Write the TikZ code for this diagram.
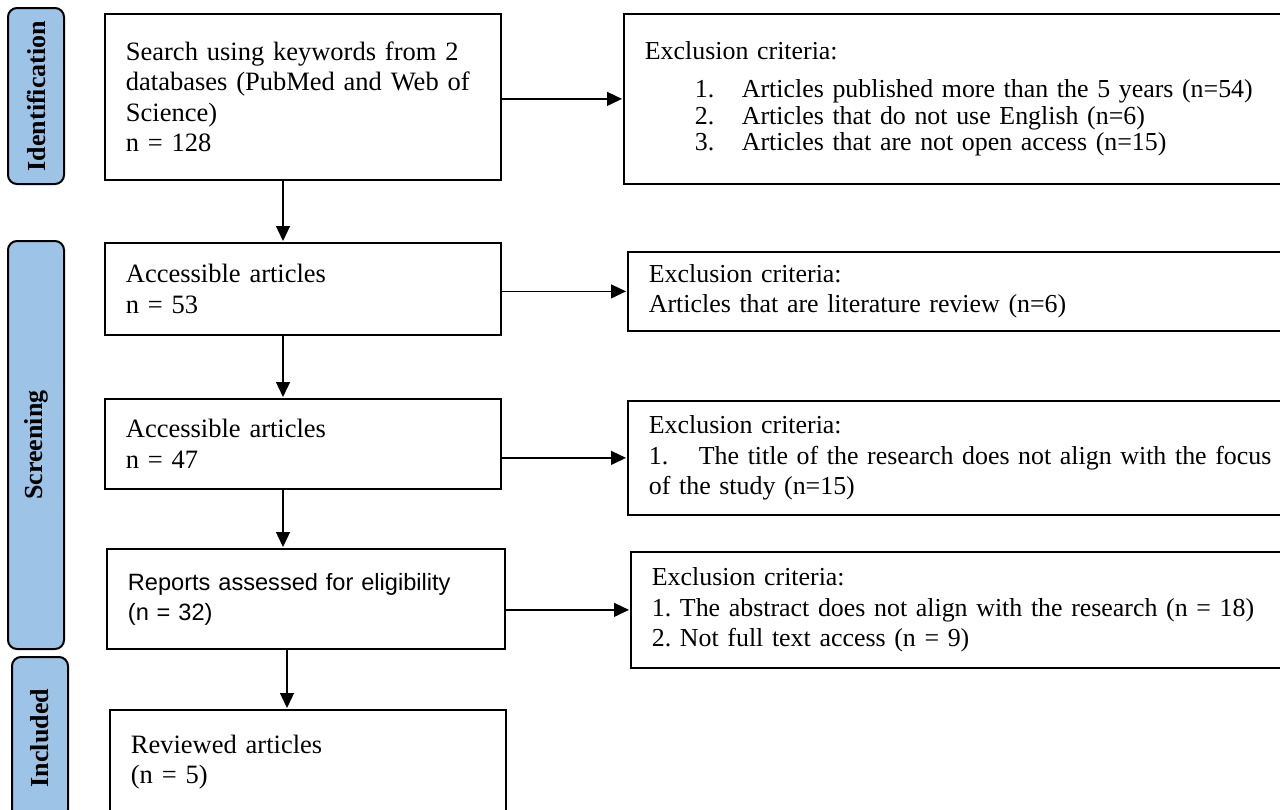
\documentclass[tikz,border=0pt]{standalone}
\usepackage{fontspec}
\setmainfont{Liberation Serif}
\newfontfamily\arialfont{Liberation Sans}
\usetikzlibrary{arrows.meta}
\definecolor{barblue}{HTML}{9DC3E6}
\frenchspacing
\begin{document}
\begin{tikzpicture}[x=1pt,y=-1pt,
  box/.style={draw=black, line width=1.8pt, rectangle, anchor=north west,
    inner xsep=21pt, inner ysep=0pt, align=left,
    font=\frenchspacing\fontsize{26.5}{30.5}\selectfont},
  rbox/.style={box, minimum width=742pt, text width=700pt,
    font=\frenchspacing\fontsize{25.9}{30.5}\selectfont},
  bar/.style={draw=black, line width=2pt, fill=barblue, rounded corners=9pt,
    rectangle, anchor=north west, inner sep=0pt},
  bartext/.style={rotate=90, font=\bfseries\fontsize{26}{30}\selectfont},
  arr/.style={line width=1.3pt, -{Triangle[length=15pt,width=14pt]}, shorten >=1pt}
]
\useasboundingbox (0,0) rectangle (1280,809);

% side bars
\node[bar, minimum width=56pt, minimum height=176pt] (idbar) at (7,7) {};
\node[bartext] (idtxt) at (idbar.center) {Identification};
\node[bar, minimum width=56pt, minimum height=408pt] (scrbar) at (7,240) {};
\node[bartext] (scrtxt) at (scrbar.center) {Screening};
\node[bar, minimum width=56pt, minimum height=162pt] (incbar) at (11,656) {};
\node[bartext] (inctxt) at (incbar.center) {Included};

% left column
\node[box, minimum width=396pt, minimum height=166pt, text width=354pt] (b1) at (104,13)
  {\makebox[354pt][s]{Search using keywords from 2}\\
   \makebox[354pt][s]{databases (PubMed and Web of}\\
   Science)\\
   n = 128};
\node[box, minimum width=396pt, minimum height=92pt, text width=354pt] (b2) at (104,242)
  {Accessible articles\\ n = 53};
\node[box, minimum width=396pt, minimum height=90pt, text width=354pt] (b3) at (104,398)
  {Accessible articles\\ n = 47};
\node[box, minimum width=398pt, minimum height=100pt, text width=356pt,
  font=\arialfont\fontsize{23.6}{30}\selectfont] (b4) at (106,548)
  {Reports assessed for eligibility\\ (n = 32)};
\node[box, minimum width=396pt, minimum height=104pt, text width=354pt] (b5) at (109,709)
  {Reviewed articles\\ (n = 5)};

% right column
\node[rbox, minimum height=170pt,
  font=\frenchspacing\fontsize{25.9}{26.5}\selectfont] (r1) at (623,13)
  {Exclusion criteria:\\[11.5pt]
   \hspace*{50pt}\makebox[47pt][l]{1.}Articles published more than the 5 years (n=54)\\
   \hspace*{50pt}\makebox[47pt][l]{2.}Articles that do not use English (n=6)\\
   \hspace*{50pt}\makebox[47pt][l]{3.}Articles that are not open access (n=15)};
\node[rbox, minimum height=79pt] (r2) at (627,251)
  {Exclusion criteria:\\ Articles that are literature review (n=6)};
\node[rbox, minimum height=114pt] (r3) at (627,400)
  {Exclusion criteria:\\
   \makebox[50pt][l]{1.}The title of the research does not align with the focus\\
   of the study (n=15)};
\node[rbox, minimum height=116pt] (r4) at (630,551)
  {Exclusion criteria:\\
   1. The abstract does not align with the research (n = 18)\\
   2. Not full text access (n = 9)};

% vertical connectors
\coordinate (ax) at (283,0);
\coordinate (ax2) at (287,0);
\draw[arr] (ax |- b1.south) -- (ax |- b2.north);
\draw[arr] (ax |- b2.south) -- (ax |- b3.north);
\draw[arr] (ax |- b3.south) -- (ax |- b4.north);
\draw[arr] (ax2 |- b4.south) -- (ax2 |- b5.north);

% horizontal connectors
\draw[arr] (b1.east |- r1.west) -- (r1.west);
\draw[arr] (b2.east |- r2.west) -- (r2.west);
\draw[arr] (b3.east |- r3.west) -- (r3.west);
\draw[arr] (b4.east |- r4.west) -- (r4.west);
\end{tikzpicture}
\end{document}
